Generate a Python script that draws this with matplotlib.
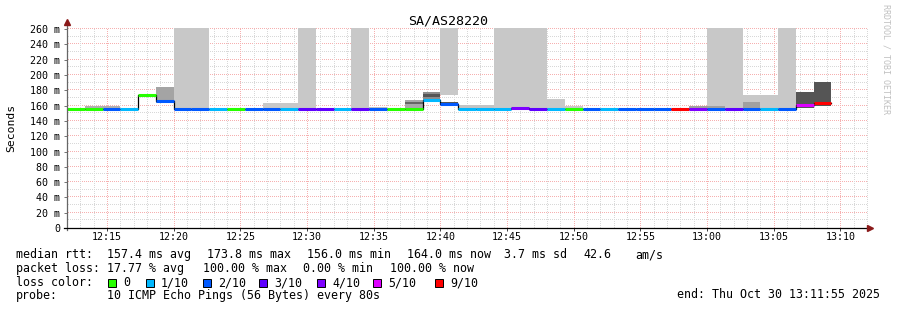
import matplotlib
matplotlib.use('Agg')
import matplotlib.pyplot as plt
import numpy as np
from matplotlib.patches import Rectangle

plt.rcParams['font.family'] = ['DejaVu Sans Mono', 'DejaVu Sans']

title = 'SA/AS28220'
start_time = '12:12'
step_seconds = 80

# median rtt (ms) per 80 s step, nan = 100 % loss
median = [156, 156, 156, 156, 174, 166, 156, 156, 156, 156,
          156, 156, 156, 156, 156, 156, 156, 156, 156, 156,
          168, 162.5, 156, 156, 156, 157, 156, 156, 156, 156,
          156, 156, 156, 156, 156, 156, 156, 156, 156, 156,
          156, 160.5, 164, np.nan, np.nan]
# lost pings out of 10
loss = [0, 0, 2, 1, 0, 2, 2, 2, 1, 0,
        2, 2, 1, 3, 3, 1, 3, 2, 0, 0,
        1, 2, 1, 1, 1, 4, 3, 1, 0, 2,
        1, 2, 2, 2, 9, 4, 2, 3, 2, 1,
        2, 5, 9, 10, 10]

nan = np.nan
# smoke (outer band), grey level 0-255
smoke_lo = [nan, 156, 156, nan, nan, 164, 156, 156, nan, nan,
            nan, 156, 156, 156, nan, nan, 156, 156, nan, 156,
            168, 174, 156, 156, 156, 156, 156, 156, 156, nan,
            nan, nan, nan, nan, nan, 156, 156, 156, 156, 156,
            156, 157, 160, nan, nan]
smoke_hi = [nan, 159, 159, nan, nan, 184, 270, 270, nan, nan,
            nan, 163, 163, 270, nan, nan, 270, 158.5, nan, 167,
            177.5, 270, 160.5, 160.5, 270, 270, 270, 169, 160, nan,
            nan, nan, nan, nan, nan, 160, 270, 270, 174, 174,
            270, 178, 191, nan, nan]
smoke_grey = [0, 176, 176, 0, 0, 164, 200, 200, 0, 0,
              0, 200, 200, 200, 0, 0, 200, 192, 0, 168,
              140, 200, 196, 196, 200, 200, 200, 200, 200, 0,
              0, 0, 0, 0, 0, 160, 200, 200, 200, 200,
              200, 85, 85, 0, 0]
# denser inner smoke
core_lo = [nan] * 45
core_hi = [nan] * 45
core_grey = [0] * 45
for k, lo, hi, g in [(19, 162, 165, 102), (20, 171, 175, 85), (21, 162, 165, 85),
                     (36, 156, 160, 160), (38, 156, 165, 160)]:
    core_lo[k], core_hi[k], core_grey[k] = lo, hi, g

loss_levels = [0, 1, 2, 3, 4, 5, 9]
loss_labels = ['0', '1/10', '2/10', '3/10', '4/10', '5/10', '9/10']
loss_colors = ['#26ff00', '#00b8ff', '#0059ff', '#5e00ff', '#7e00ff', '#dd00ff', '#ff0000']

x_labels = ['12:15', '12:20', '12:25', '12:30', '12:35', '12:40', '12:45',
            '12:50', '12:55', '13:00', '13:05', '13:10']
y_ticks = list(range(0, 261, 20))

legend_rtt = ['157.4 ms avg', '173.8 ms max', '156.0 ms min', '164.0 ms now',
              '3.7 ms sd', '42.6', 'am/s']
legend_loss = ['17.77 % avg', '100.00 % max', '0.00 % min', '100.00 % now']
probe = '10 ICMP Echo Pings (56 Bytes) every 80s'
end_text = 'end: Thu Oct 30 13:11:55 2025'


def to_min(s):
    h, m = s.split(':')
    return int(h) * 60 + int(m)


def loss_color(l):
    c = loss_colors[0]
    for lv, col in zip(loss_levels, loss_colors):
        if l >= lv:
            c = col
    return c


W, H = 897, 310
AX_W, AX_H = 800, 200
fig = plt.figure(figsize=(W / 100, H / 100), dpi=100)
ax = fig.add_axes([67 / W, 82 / H, AX_W / W, AX_H / H])

t0 = to_min(start_time)
n = len(median)
step = step_seconds / 60
left = t0 + np.arange(n) * step
ymax = 261.5

# dotted grid, one pixel on / one off like rrdtool
xdots = t0 + (np.arange(0, AX_W, 2) + 0.5) * 60 / AX_W
ydots = (np.arange(0, AX_H, 2) + 0.5) * ymax / AX_H
for yv in range(10, 261, 10):
    col = '#f6b0b0' if yv % 20 == 0 else '#d8d8d8'
    ax.plot(xdots, np.full_like(xdots, yv), ',', color=col, zorder=1)
for xv in range(t0 + 1, t0 + 61):
    col = '#f6b0b0' if xv % 5 == 0 else '#d8d8d8'
    ax.plot(np.full_like(ydots, xv), ydots, ',', color=col, zorder=1)

med = np.array(median, float)
lo = np.array(smoke_lo, float)
hi = np.array(smoke_hi, float)
ok = ~np.isnan(lo)
ax.bar(left[ok], (hi - lo)[ok], bottom=lo[ok], width=step, align='edge',
       color=[str(g / 255) for g in np.array(smoke_grey)[ok]], linewidth=0, zorder=2)
clo = np.array(core_lo, float)
chi = np.array(core_hi, float)
ok = ~np.isnan(clo)
ax.bar(left[ok], (chi - clo)[ok], bottom=clo[ok], width=step, align='edge',
       color=[str(g / 255) for g in np.array(core_grey)[ok]], linewidth=0, zorder=2)

# black step line then coloured median segments
edges = np.append(left, left[-1] + step)
ax.step(edges, np.append(med, med[-1]), where='post', color='black', lw=0.9, zorder=3)
ok = ~np.isnan(med)
ax.hlines(med[ok], left[ok], left[ok] + step,
          colors=[loss_color(l) for l in np.array(loss)[ok]], lw=2.2, zorder=4,
          capstyle='butt')

ax.set_xlim(t0, t0 + 60)
ax.set_ylim(0, ymax)

ax.set_xticks([to_min(s) for s in x_labels])
ax.set_xticklabels(x_labels)
ax.set_yticks(y_ticks)
ax.set_yticklabels(['0'] + ['%d m' % v for v in y_ticks[1:]])

ax.tick_params(axis='y', which='major', length=2.5, width=0.72, color='#777777',
               pad=2.5, labelsize=7.2)
ax.tick_params(axis='x', which='major', length=2, width=0.72, color='#444444',
               pad=1.2, labelsize=7.2)

for s in ax.spines.values():
    s.set_visible(False)
ax.plot([0, 0], [-0.01, 1.03], transform=ax.transAxes, color='#666666', lw=0.9,
        clip_on=False, zorder=5)
ax.plot([-0.004, 1.003], [0, 0], transform=ax.transAxes, color='black', lw=0.9,
        clip_on=False, zorder=5)
ax.plot([0], [1.03], marker='^', ms=4.5, color='#8b1a1a', transform=ax.transAxes,
        clip_on=False, zorder=6)
ax.plot([1.004], [0], marker='>', ms=4.5, color='#8b1a1a', transform=ax.transAxes,
        clip_on=False, zorder=6)

ax.set_ylabel('Seconds', fontsize=8.2, labelpad=10)

fig.text(448.5 / W, 1 - 25 / H, title, ha='center', va='baseline', fontsize=9.6)
fig.text(886 / W, 1 - 4 / H, 'RRDTOOL / TOBI OETIKER', rotation=-90, ha='center',
         va='top', fontsize=6, color='#c0c0c0')


def ftext(x, y, s, **kw):
    fig.text(x / W, 1 - y / H, s, va='baseline', fontsize=8.4, **kw)


ftext(16, 258.3, 'median rtt:')
for x, s in zip([107, 207, 307, 407, 504, 583, 635], legend_rtt):
    ftext(x, 258.3, s)
ftext(16, 272.3, 'packet loss:')
for x, s in zip([107, 203, 303, 390], legend_loss):
    ftext(x, 272.3, s)
ftext(16, 286.2, 'loss color:')
for x, s, c in zip([108, 146, 203, 259, 317, 373, 435], loss_labels, loss_colors):
    fig.patches.append(Rectangle((x / W, 1 - 287 / H), 8 / W, 8 / H,
                                 transform=fig.transFigure, facecolor=c,
                                 edgecolor='black', lw=0.7))
    ftext(x + 15, 286.2, s)
ftext(16, 298.5, 'probe:')
ftext(107, 298.5, probe)
ftext(880, 298.5, end_text, ha='right')

fig.savefig('out.png', dpi=100)
